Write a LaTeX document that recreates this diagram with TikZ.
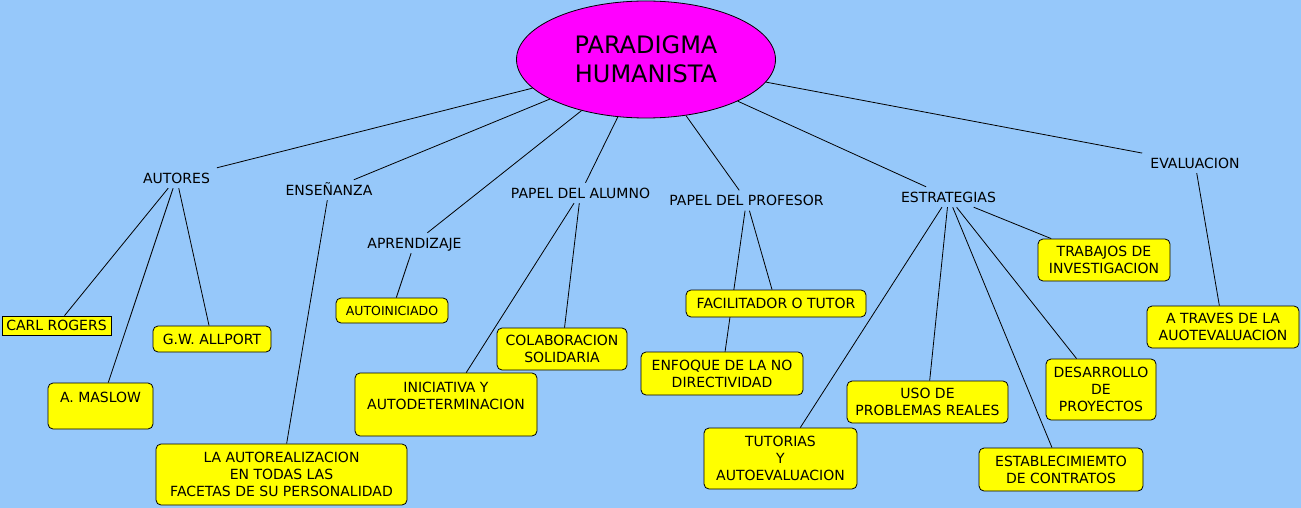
\documentclass[tikz,border=0pt]{standalone}
\usepackage{fontspec}
\setmainfont{DejaVu Sans}
\usetikzlibrary{shapes.geometric}
\definecolor{bgblue}{RGB}{150,200,250}
\definecolor{boxyellow}{RGB}{255,255,0}
\definecolor{rootmag}{RGB}{255,0,255}
\pgfdeclarelayer{bglayer}
\pgfsetlayers{bglayer,main}
\tikzset{
  lbl/.style={font=\fontsize{14}{17}\selectfont, inner xsep=8pt, inner ysep=5pt, text height=10pt, text depth=0pt},
  box/.style 2 args={draw=black, fill=boxyellow, rounded corners=5pt, line width=0.8pt, inner sep=0pt, align=center, font=\fontsize{14}{17}\selectfont, minimum width=#1pt, minimum height=#2pt},
  conn/.style={draw=black, line width=0.8pt},
}
\begin{document}
\begin{tikzpicture}[x=1pt,y=-1pt]
\begin{pgfonlayer}{bglayer}
\fill[bgblue] (0,0) rectangle (1301,508);
\end{pgfonlayer}
\useasboundingbox (0,0) rectangle (1301,508);

% root
\node[ellipse, draw=black, fill=rootmag, line width=0.8pt, minimum width=259pt, minimum height=117pt, inner sep=0pt, align=center, font=\fontsize{24}{29}\selectfont] (root) at (646,59.5) {PARADIGMA\\HUMANISTA};

% labels
\node[lbl] (autores) at (176.5,178) {AUTORES};
\node[lbl] (ensen) at (329,190) {ENSEÑANZA};
\node[lbl] (aprend) at (414.5,243) {APRENDIZAJE};
\node[lbl] (alumno) at (580.5,193) {PAPEL DEL ALUMNO};
\node[lbl] (profesor) at (746.5,200.5) {PAPEL DEL PROFESOR};
\node[lbl] (estrat) at (948.5,197) {ESTRATEGIAS};
\node[lbl] (evalua) at (1195,163) {EVALUACION};

% boxes
\node[box={109}{19}, sharp corners] (carl) at (56.5,325.5) {CARL ROGERS};
\node[box={118}{26}] (allport) at (212,339) {G.W. ALLPORT};
\node[box={105}{46}] (maslow) at (100.5,406) {A. MASLOW\\\mbox{}};
\node[box={251}{61}] (autoreal) at (281.5,474.5) {LA AUTOREALIZACION\\EN TODAS LAS\\FACETAS DE SU PERSONALIDAD};
\node[box={112}{25}, font=\fontsize{12.5}{15}\selectfont] (autoinic) at (392,310.5) {AUTOINICIADO};
\node[box={182}{63}] (inicia) at (446,404.5) {INICIATIVA Y\\AUTODETERMINACION\\\mbox{}};
\node[box={130}{42}] (colab) at (562,349) {COLABORACION\\SOLIDARIA};
\node[box={180}{27}] (facil) at (776,303.5) {FACILITADOR O TUTOR};
\node[box={162}{43}] (enfoque) at (722,373.5) {ENFOQUE DE LA NO\\DIRECTIVIDAD};
\node[box={153}{61}] (tutorias) at (780.5,458.5) {TUTORIAS\\Y\\AUTOEVALUACION};
\node[box={161}{42}] (uso) at (927.5,402) {USO DE\\PROBLEMAS REALES};
\node[box={164}{43}] (establ) at (1061,469.5) {ESTABLECIMIEMTO\\DE CONTRATOS};
\node[box={110}{61}] (desarr) at (1101,389.5) {DESARROLLO\\DE\\PROYECTOS};
\node[box={132}{42}] (trabajos) at (1104,260) {TRABAJOS DE\\INVESTIGACION};
\node[box={152}{42}] (atraves) at (1223,327) {A TRAVES DE LA\\AUOTEVALUACION};

% connectors
\begin{pgfonlayer}{bglayer}
\draw[conn] (root) -- (autores);
\draw[conn] (root) -- (ensen);
\draw[conn] (root) -- (aprend);
\draw[conn] (root) -- (alumno);
\draw[conn] (root) -- (profesor);
\draw[conn] (root) -- (estrat);
\draw[conn] (root) -- (evalua);
\draw[conn] (autores) -- (carl);
\draw[conn] (autores) -- (maslow);
\draw[conn] (autores) -- (allport);
\draw[conn] (ensen) -- (autoreal);
\draw[conn] (aprend) -- (autoinic);
\draw[conn] (alumno) -- (inicia);
\draw[conn] (alumno) -- (colab);
\draw[conn] (profesor) -- (facil);
\draw[conn] (profesor) -- (enfoque);
\draw[conn] (estrat) -- (tutorias);
\draw[conn] (estrat) -- (uso);
\draw[conn] (estrat) -- (establ);
\draw[conn] (estrat) -- (desarr);
\draw[conn] (estrat) -- (trabajos);
\draw[conn] (evalua) -- (atraves);
\end{pgfonlayer}
\end{tikzpicture}
\end{document}
